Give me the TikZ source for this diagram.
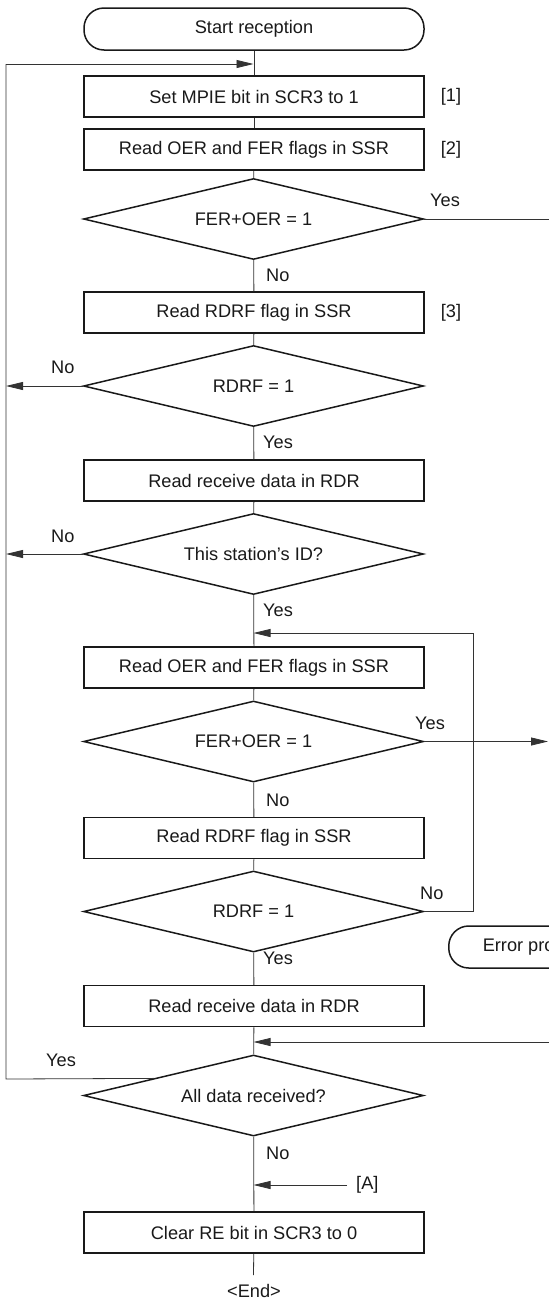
\documentclass[tikz,border=0pt]{standalone}
\usepackage{fontspec}
\setmainfont{Liberation Sans}
\usetikzlibrary{shapes.geometric,arrows.meta,calc}
\begin{document}
\begin{tikzpicture}[x=1pt,y=-1pt,
  every node/.style={font=\fontsize{18.2}{22}\selectfont, inner sep=0pt, text=black!90},
  procbox/.style={draw=black!90, line width=1.5pt, minimum width=340pt, minimum height=41pt},
  decision/.style={draw=black!90, line width=1.5pt, diamond, aspect=4, minimum width=340pt, minimum height=81pt},
  term/.style={draw=black!90, line width=1.5pt, rounded corners=20pt, minimum width=340pt, minimum height=42pt},
  conn/.style={draw=black!80, line width=0.8pt},
  arr/.style={conn, -{Triangle[length=17pt,width=8pt]}},
  lbl/.style={anchor=west}
]
\useasboundingbox (0,0) rectangle (549,1299);
\clip (0,0) rectangle (549,1299);

% main column
\node[term] (start) at (254,29) {Start reception};
\node[procbox] (b1) at (254,96.5) {Set MPIE bit in SCR3 to 1};
\node (n1) at (451,97) {[1]};
\node[procbox] (b2) at (254,149.5) {Read OER and FER flags in SSR};
\node (n2) at (451,150) {[2]};
\node[decision] (d1) at (253.5,219) {FER+OER = 1};
\node[procbox] (b3) at (254,312.5) {Read RDRF flag in SSR};
\node (n3) at (451,313) {[3]};
\node[decision] (d2) at (253.5,386) {RDRF = 1};
\node[procbox] (b4) at (254,480.5) {Read receive data in RDR};
\node[decision] (d3) at (253.5,554) {This station’s ID?};
\node[procbox] (b5) at (254,667.5) {Read OER and FER flags in SSR};
\node[decision] (d4) at (253.5,741.5) {FER+OER = 1};
\node[procbox] (b6) at (254,838) {Read RDRF flag in SSR};
\node[decision] (d5) at (253.5,911.5) {RDRF = 1};
\node[term, minimum width=0pt, inner xsep=34pt, anchor=west] (err) at (448,947) {Error processing};
\node[procbox] (b7) at (254,1006) {Read receive data in RDR};
\node[decision] (d6) at (253.5,1095.5) {All data received?};
\node[procbox] (b8) at (254,1232.5) {Clear RE bit in SCR3 to 0};
\node (end) at (254,1291) {<End>};

% coordinates
\coordinate (j0) at (253.5,64);
\coordinate (lt) at (6,64);
\coordinate (d1r) at (549,219);
\coordinate (l2) at (6,386);
\coordinate (l3) at (6,554);
\coordinate (j5) at (253.5,633);
\coordinate (rr) at (473,633);
\coordinate (rb) at (473,911.5);
\coordinate (e4) at (548,741.5);
\coordinate (re7) at (549,1042);
\coordinate (j7) at (253.5,1042);
\coordinate (yl) at ($(d6.west)!0.415!(d6.north)$);
\coordinate (lb) at (6,1079);
\coordinate (ja) at (253.5,1185);
\coordinate (ea) at (347,1185);
\coordinate (endtop) at (253.5,1275);

% connectors
\draw[conn] (start) -- (b1);
\draw[conn] (b1) -- (b2);
\draw[conn] (b2) -- (d1);
\draw[conn] (d1) -- (b3);
\draw[conn] (b3) -- (d2);
\draw[conn] (d2) -- (b4);
\draw[conn] (b4) -- (d3);
\draw[conn] (d3) -- (b5);
\draw[conn] (b5) -- (d4);
\draw[conn] (d4) -- (b6);
\draw[conn] (b6) -- (d5);
\draw[conn] (d5) -- (b7);
\draw[conn] (b7) -- (d6);
\draw[conn] (d6) -- (b8);
\draw[conn] (b8) -- (endtop);

\draw[conn] (d1.east) -- (d1r);
\draw[arr] (d2.west) -- (l2);
\draw[arr] (d3.west) -- (l3);
\draw[arr] (d4.east) -- (e4);
\draw[conn] (d5.east) -- (rb) -- (rr);
\draw[arr] (rr) -- (j5);
\draw[arr] (re7) -- (j7);
\draw[conn] (yl) -- (lb) -- (lt);
\draw[arr] (lt) -- (j0);
\draw[arr] (ea) -- (ja);

% labels
\node[lbl] (y1) at (430,200) {Yes};
\node[lbl] (no1) at (266,275) {No};
\node[lbl] (no2) at (51,367) {No};
\node[lbl] (y2) at (263,442) {Yes};
\node[lbl] (no3) at (51,536) {No};
\node[lbl] (y3) at (263,610) {Yes};
\node[lbl] (y4) at (415,723) {Yes};
\node[lbl] (no4) at (266,800) {No};
\node[lbl] (no5) at (420,893) {No};
\node[lbl] (y5) at (263,958) {Yes};
\node[lbl] (y6) at (46,1060) {Yes};
\node[lbl] (no6) at (266,1153) {No};
\node[lbl] (la) at (356,1185) {[A]};
\end{tikzpicture}
\end{document}
